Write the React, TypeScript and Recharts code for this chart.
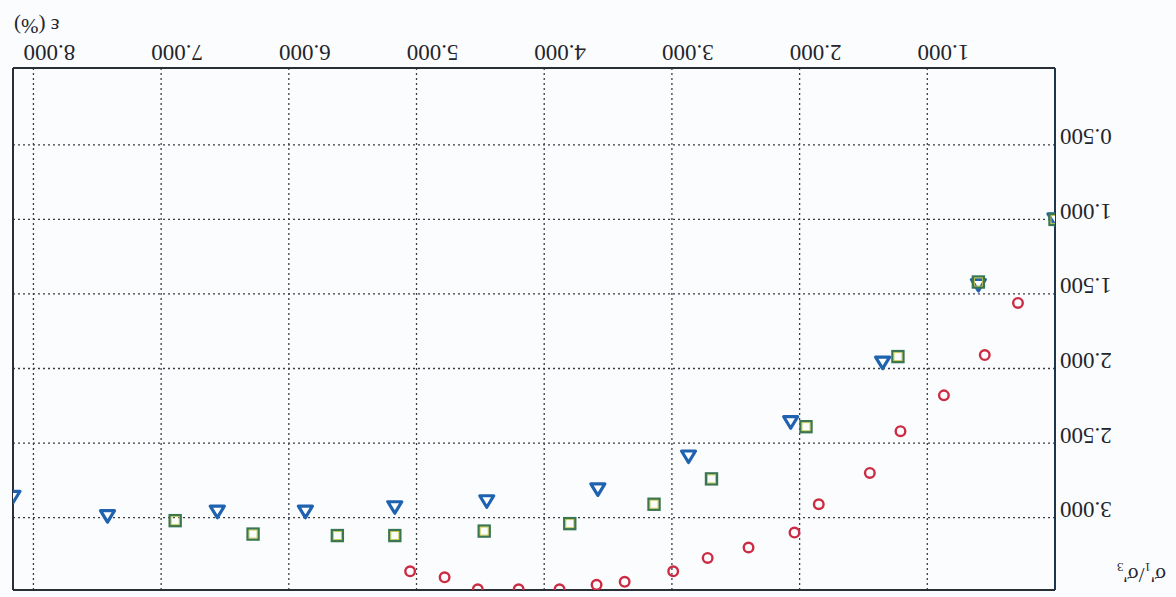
import { ScatterChart, Scatter, XAxis, YAxis, CartesianGrid, ReferenceLine } from "recharts"

// the reference is a scanned plot turned upside down, so the chart is drawn upright and rotated 180deg
const circleX = [0.29, 0.55, 0.87, 1.21, 1.45, 1.85, 2.04, 2.4, 2.72, 2.99, 3.37, 3.59, 3.88, 4.2, 4.52, 4.78, 5.05]
const circleY = [1.56, 1.91, 2.18, 2.42, 2.7, 2.91, 3.1, 3.2, 3.27, 3.36, 3.43, 3.45, 3.48, 3.48, 3.48, 3.4, 3.36]

const squareX = [0, 0.6, 1.23, 1.95, 2.69, 3.14, 3.8, 4.47, 5.17, 5.62, 6.28, 6.89]
const squareY = [1.0, 1.42, 1.92, 2.39, 2.74, 2.91, 3.04, 3.09, 3.12, 3.12, 3.11, 3.02]

const triangleX = [0, 0.6, 1.35, 2.07, 2.87, 3.58, 4.45, 5.17, 5.87, 6.56, 7.42, 8.16]
const triangleY = [1.0, 1.44, 1.96, 2.36, 2.59, 2.81, 2.89, 2.93, 2.96, 2.96, 2.99, 2.86]

const xTicks = [1, 2, 3, 4, 5, 6, 7, 8]
const yTicks = [0.5, 1, 1.5, 2, 2.5, 3]
const xMax = 8.16
const yMin = -0.015
const yMax = 3.485

const toPoints = (xs: number[], ys: number[]) => xs.map((x, i) => ({ x, y: ys[i] }))

const FONT = "'Liberation Serif', 'Times New Roman', serif"
const TEXT = "#23252b"

const RedCircle = (p: any) => (
  <circle cx={p.cx} cy={p.cy} r={4.8} fill="none" stroke="#cc2c43" strokeWidth={2.4} />
)

const GreenSquare = (p: any) => (
  <g>
    <rect x={p.cx - 5.5} y={p.cy - 5.5} width={11} height={11} fill="none" stroke="#3a7652" strokeWidth={2.4} />
    <rect x={p.cx - 4} y={p.cy - 4} width={8} height={8} fill="none" stroke="#c9c94a" strokeWidth={0.9} />
  </g>
)

const BlueTriangle = (p: any) => (
  <polygon
    points={`${p.cx},${p.cy - 6} ${p.cx + 7},${p.cy + 5.5} ${p.cx - 7},${p.cy + 5.5}`}
    fill="#ffffff"
    stroke="#1f63b0"
    strokeWidth={3.2}
    strokeLinejoin="round"
  />
)

const XTick = (p: any) => (
  <text x={p.x - 16} y={529 + 16} textAnchor="middle" dominantBaseline="central" fontFamily={FONT} fontSize={23} fill={TEXT}>
    {p.payload.value.toFixed(3)}
  </text>
)

const YTick = (p: any) => (
  <text x={116} y={p.y + 8} textAnchor="end" dominantBaseline="central" fontFamily={FONT} fontSize={23} fill={TEXT}>
    {p.payload.value.toFixed(3)}
  </text>
)

export default function App() {
  return (
    <div
      style={{
        position: "absolute",
        left: 0,
        top: 0,
        width: 1176,
        height: 597,
        background: "#fbfcfe",
        transform: "rotate(180deg)",
        fontFamily: FONT,
        color: TEXT,
      }}
    >
      <ScatterChart width={1176} height={597} margin={{ top: 7, right: 13, left: 0, bottom: 0 }}>
        <CartesianGrid stroke="#3a3d44" strokeDasharray="2 3" strokeWidth={1.3} />
        <XAxis
          type="number"
          dataKey="x"
          domain={[0, xMax]}
          ticks={xTicks}
          height={68}
          tick={XTick}
          tickLine={false}
          axisLine={{ stroke: "#2a2e36", strokeWidth: 2 }}
          allowDataOverflow
        />
        <YAxis
          type="number"
          dataKey="y"
          domain={[yMin, yMax]}
          ticks={yTicks}
          width={121}
          tick={YTick}
          tickLine={false}
          axisLine={{ stroke: "#1e3550", strokeWidth: 2 }}
          allowDataOverflow
        />
        <ReferenceLine x={xMax} stroke="#2a2e36" strokeWidth={2} />
        <ReferenceLine y={yMax} stroke="#2a2e36" strokeWidth={2} />
        <Scatter data={toPoints(circleX, circleY)} shape={RedCircle} isAnimationActive={false} />
        <Scatter data={toPoints(triangleX, triangleY)} shape={BlueTriangle} isAnimationActive={false} />
        <Scatter data={toPoints(squareX, squareY)} shape={GreenSquare} isAnimationActive={false} />
      </ScatterChart>
      <div style={{ position: "absolute", left: 10, top: 10, fontSize: 21, lineHeight: "24px", whiteSpace: "nowrap" }}>
        σ'<sub style={{ fontSize: 13 }}>1</sub>/σ'<sub style={{ fontSize: 13 }}>3</sub>
      </div>
      <div style={{ position: "absolute", right: 14, top: 559, fontSize: 21, lineHeight: "24px", whiteSpace: "nowrap" }}>
        ε (%)
      </div>
    </div>
  )
}
